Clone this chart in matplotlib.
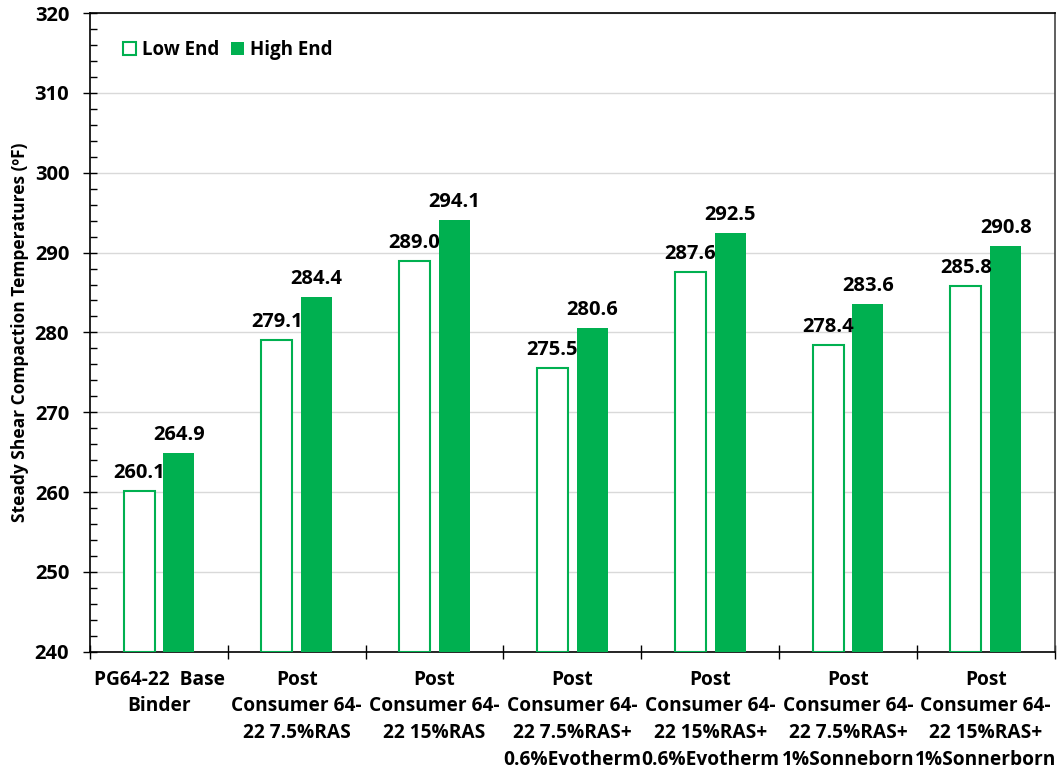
import numpy as np
import matplotlib.pyplot as plt
from matplotlib.ticker import MultipleLocator, FixedLocator

plt.rcParams['font.family'] = ['Open Sans', 'DejaVu Sans']
plt.rcParams['font.weight'] = 'bold'

categories = ["PG64-22  Base\nBinder",
              "Post\nConsumer 64-\n22 7.5%RAS",
              "Post\nConsumer 64-\n22 15%RAS",
              "Post\nConsumer 64-\n22 7.5%RAS+\n0.6%Evotherm",
              "Post\nConsumer 64-\n22 15%RAS+\n0.6%Evotherm",
              "Post\nConsumer 64-\n22 7.5%RAS+\n1%Sonneborn",
              "Post\nConsumer 64-\n22 15%RAS+\n1%Sonnerborn"]
low_end = [260.1, 279.1, 289.0, 275.5, 287.6, 278.4, 285.8]
high_end = [264.9, 284.4, 294.1, 280.6, 292.5, 283.6, 290.8]

green = '#00B050'
x = np.arange(len(categories))
w = 0.225
off = 0.145

fig = plt.figure(figsize=(10.6, 7.73), dpi=100)
ax = fig.add_axes([0.085, 0.157, 0.91, 0.826])

ax.bar(x - off, np.array(low_end) - 240, w, bottom=240, facecolor='white',
       edgecolor=green, linewidth=1.5, label='Low End', zorder=3)
ax.bar(x + off, np.array(high_end) - 240, w, bottom=240, color=green,
       label='High End', zorder=3)

for xi, v in zip(x - off, low_end):
    ax.text(xi, v + 1.0, f"{v:.1f}", ha='center', va='bottom', fontsize=14.5, fontweight='bold')
for xi, v in zip(x + off, high_end):
    ax.text(xi, v + 1.0, f"{v:.1f}", ha='center', va='bottom', fontsize=14.5, fontweight='bold')

ax.set_xlim(-0.5, len(categories) - 0.5)
ax.set_ylim(240, 320)
ax.yaxis.set_major_locator(MultipleLocator(10))
ax.yaxis.set_minor_locator(MultipleLocator(2))
ax.grid(axis='y', color='#d9d9d9', linewidth=1, zorder=0)

ax.xaxis.set_major_locator(FixedLocator(np.arange(-0.5, len(categories), 1.0)))
ax.set_xticklabels([])
ax.xaxis.set_minor_locator(FixedLocator(x))
ax.set_xticklabels(categories, minor=True, fontsize=13.8, fontweight='bold', linespacing=1.45)
ax.tick_params(axis='x', which='minor', length=0, pad=13)
ax.tick_params(axis='x', which='major', direction='inout', length=10, width=1)
ax.tick_params(axis='y', which='major', direction='inout', length=10, width=1,
               labelsize=14.5, pad=10)
ax.tick_params(axis='y', which='minor', direction='in', length=5, width=1)
for t in ax.get_yticklabels():
    t.set_fontweight('bold')

for s in ax.spines.values():
    s.set_linewidth(1.2)
ax.spines['right'].set_color('#444444')

ax.set_ylabel('Steady Shear Compaction Temperatures (ºF)', fontsize=12.5,
              fontweight='bold', labelpad=4)

ax.legend(loc='upper left', bbox_to_anchor=(0.0265, 0.969), borderaxespad=0,
          ncol=2, frameon=False, handlelength=0.7, handleheight=0.7,
          handletextpad=0.32, columnspacing=0.6,
          prop={'weight': 'bold', 'size': 13.5})

fig.savefig('out.png', dpi=100)
